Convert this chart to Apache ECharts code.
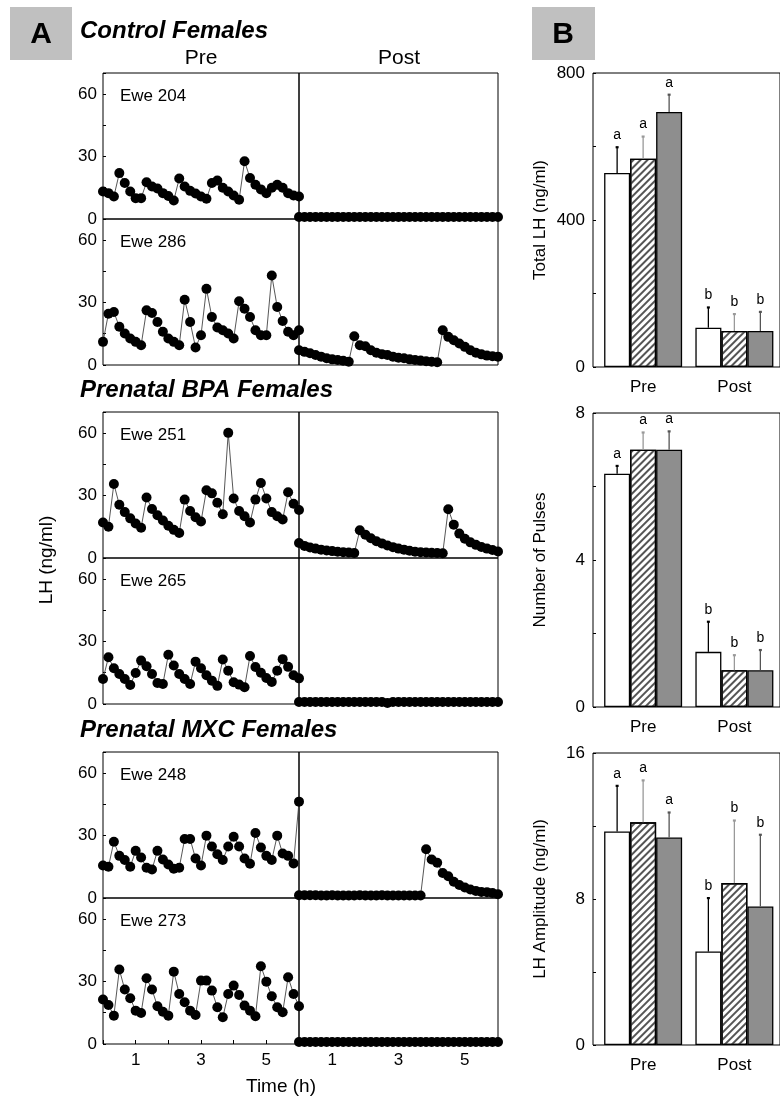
<!DOCTYPE html>
<html>
<head>
<meta charset="UTF-8">
<title>LH pulses pre / post</title>
<style>
body { margin: 0; padding: 0; background: #fff; }
#main { width: 780px; height: 1098px; }
</style>
</head>
<body>
<div id="main"></div>
<script src="https://cdn.jsdelivr.net/npm/echarts@6/dist/echarts.min.js"></script>
<script>
// LH (ng/ml), one sample every 10 min over 6 h
var ewe204Pre  = [13.2,12.4,10.8,22,17.3,13.2,10,10,17.6,15.6,14.6,12.4,11,8.9,19.4,15.6,13.5,12.2,10.8,9.7,17.3,18.4,15,13.2,11.3,9.2,27.7,19.7,16.4,14.2,12.4,15,16.4,15,12.4,11.3,10.8];
var ewe204Post = [1,1,1,1,1,1,1,1,1,1,1,1,1,1,1,1,1,1,1,1,1,1,1,1,1,1,1,1,1,1,1,1,1,1,1,1,1];
var ewe286Pre  = [11.1,24.6,25.4,18.3,15.1,12.7,11.1,9.5,26.2,24.9,20.6,15.9,12.7,11.1,9.5,31.3,20.6,8.4,14.3,36.5,23,18,16.7,15.1,12.7,30.6,27,23,16.7,14.3,14.3,42.9,27.8,21.1,15.9,14.3,16.7];
var ewe286Post = [7.1,6.3,5.6,4.8,4,3.2,2.7,2.4,2,1.6,13.8,9.5,9,7.1,5.9,5.2,4.8,4,3.5,3.2,2.7,2.4,2.1,1.8,1.6,1.3,16.7,13.5,11.9,10.3,8.7,7.1,5.9,5.1,4.5,4.2,4];
var ewe251Pre  = [17,15,35.5,25.5,22,19,16.5,14.5,29,23.5,20.5,18,15.5,13.5,12,28,22.5,19.5,17.5,32.5,31,26.5,21,60,28.5,22.5,20,17,28,36,28.5,22,20,18.5,31.5,26,23];
var ewe251Post = [7.2,5.8,5,4.5,4,3.6,3.3,3,2.8,2.6,2.4,13.3,11.2,9.5,8,7,6,5.2,4.5,4,3.5,3,2.8,2.6,2.5,2.4,2.3,23.4,16,11.7,9.2,7.5,6.3,5.3,4.5,3.8,3.1];
var ewe265Pre  = [12,22.4,17.1,14.4,12,9.1,14.9,20.8,18.1,14.4,10.1,9.6,23.6,18.5,14.4,12,9.6,20.3,17.1,13.8,11.2,8.7,21.3,16,10.4,9.3,8,23,17.7,15,12.5,10.6,15.9,21.5,17.8,13.8,12.3];
var ewe265Post = [1,1,1,1,1,1,1,1,1,1,1,1,1,1,1,1,0.5,1,1,1,1,1,1,1,1,1,1,1,1,1,1,1,1,1,1,1,1];
var ewe248Pre  = [15.6,15,27,20.2,18.2,15,22.6,19.4,14.5,13.7,22.6,18.5,16.1,14,14.5,28.3,28.3,18.9,15.6,29.9,24.7,21,18.2,24.7,29.4,24.7,18.9,16.4,31.2,24.2,20.2,18.2,29.9,21.3,20.2,16.6,46.2];
var ewe248Post = [1.3,1.3,1.3,1.3,1.2,1.2,1.3,1.2,1.2,1.2,1.2,1.3,1.2,1.2,1.2,1.3,1.2,1.2,1.2,1.2,1.2,1.2,1.2,23.4,18.5,16.9,12,10.4,7.8,6.2,5,4.1,3.4,2.9,2.8,2.4,1.8];
var ewe273Pre  = [21.3,18.7,13.6,35.7,26.1,21.9,16,14.9,31.5,26.1,18.1,15.5,13.6,34.7,24,20,16,13.9,30.4,30.4,25.6,17.6,12.8,24,28,23.5,18.4,16,13.3,37.3,29.9,22.9,17.6,15.2,32,24,18.1];
var ewe273Post = [1,1,1,1,1,1,1,1,1,1,1,1,1,1,1,1,1,1,1,1,1,1,1,1,1,1,1,1,1,1,1,1,1,1,1,1,1];

var eweNames = ['Ewe 204', 'Ewe 286', 'Ewe 251', 'Ewe 265', 'Ewe 248', 'Ewe 273'];
var preData  = [ewe204Pre, ewe286Pre, ewe251Pre, ewe265Pre, ewe248Pre, ewe273Pre];
var postData = [ewe204Post, ewe286Post, ewe251Post, ewe265Post, ewe248Post, ewe273Post];
var groupTitles = ['Control Females', 'Prenatal BPA Females', 'Prenatal MXC Females'];

// panel B: Pre, Post
var barCats = ['Pre', 'Post'];
var totalControl = [528, 107], totalControlUp = [598, 162];
var totalBpa     = [567, 98],  totalBpaUp     = [627, 144];
var totalMxc     = [694, 98],  totalMxcUp     = [741, 150];
var pulsesControl = [6.35, 1.5], pulsesControlUp = [6.56, 2.32];
var pulsesBpa     = [7, 1],      pulsesBpaUp     = [7.47, 1.41];
var pulsesMxc     = [7, 1],      pulsesMxcUp     = [7.5, 1.55];
var ampControl = [11.7, 5.12],  ampControlUp = [14.2, 8.05];
var ampBpa     = [12.2, 8.87],  ampBpaUp     = [14.5, 12.3];
var ampMxc     = [11.37, 7.59], ampMxcUp     = [12.74, 11.52];
var barLetters = ['a', 'b'];

var font = 'Liberation Sans, Arial, sans-serif';
var BAR_W = 26;
var chart = echarts.init(document.getElementById('main'), null, {renderer: 'canvas'});

var grids = [], xAxes = [], yAxes = [], series = [], graphics = [];
var panelTops = [73, 219, 412, 558, 752, 898];
var panelH = 146;

for (var k = 0; k < 6; k++) {
	for (var half = 0; half < 2; half++) {
		var gi = grids.length;
		var isPre = half === 0;
		var isBottom = k === 5;
		grids.push({left: isPre ? 103 : 299, top: panelTops[k], width: isPre ? 196 : 199, height: panelH,
			show: true, borderColor: '#000', borderWidth: 1, backgroundColor: 'transparent'});
		xAxes.push({gridIndex: gi, type: 'value', min: 0, max: 6, interval: 1,
			axisLine: {show: false}, splitLine: {show: false},
			axisTick: {show: isBottom && isPre, inside: true, length: 4, lineStyle: {color: '#000'}},
			axisLabel: {show: isBottom, margin: 8, color: '#000', fontSize: 17, fontFamily: font,
				formatter: function (v) { return v % 2 === 1 ? String(v) : ''; }}});
		yAxes.push({gridIndex: gi, type: 'value', min: 0, max: 70, interval: 15,
			axisLine: {show: false}, splitLine: {show: false},
			axisTick: {show: isPre, inside: true, length: 3, lineStyle: {color: '#000'}},
			axisLabel: {show: isPre, margin: 6, color: '#000', fontSize: 17, fontFamily: font,
				formatter: function (v) { return v % 30 === 0 ? String(v) : ''; }}});
		var vals = isPre ? preData[k] : postData[k];
		series.push({type: 'line', xAxisIndex: gi, yAxisIndex: gi, clip: false, animation: false,
			symbol: 'circle', symbolSize: 10,
			itemStyle: {color: '#000'}, lineStyle: {color: '#444', width: 0.9},
			data: vals.map(function (v, i) { return [i / 6, v]; })});
	}
	graphics.push({type: 'text', left: 120, top: panelTops[k] + 15,
		style: {text: eweNames[k], fontSize: 17, fontFamily: font, fill: '#000'}});
}

// bar panels: an outer frame grid carries the y scale, an inner grid carries the bars
var barPanels = [
	{top: 73, height: 294, max: 800, step: 200, name: 'Total LH (ng/ml)',
		means: [totalControl, totalBpa, totalMxc], ups: [totalControlUp, totalBpaUp, totalMxcUp]},
	{top: 413, height: 294, max: 8, step: 2, name: 'Number of Pulses',
		means: [pulsesControl, pulsesBpa, pulsesMxc], ups: [pulsesControlUp, pulsesBpaUp, pulsesMxcUp]},
	{top: 753, height: 292, max: 16, step: 4, name: 'LH Amplitude (ng/ml)',
		means: [ampControl, ampBpa, ampMxc], ups: [ampControlUp, ampBpaUp, ampMxcUp]}
];
var barStyles = [
	{color: '#fff', borderColor: '#000', borderWidth: 1.3},
	{color: '#fff', borderColor: '#000', borderWidth: 1.3,
		decal: {symbol: 'rect', symbolSize: 1, color: '#555', dashArrayX: [1, 0], dashArrayY: [1.2, 2.6], rotation: -Math.PI / 4}},
	{color: '#8e8e8e', borderColor: '#000', borderWidth: 1.3}
];
var errColors = ['#000', '#999', '#555'];

function errRender(g, color) {
	return function (params, api) {
		var m = api.value(1), u = api.value(2);
		var pm = api.coord([params.dataIndex, m]), pu = api.coord([params.dataIndex, u]);
		var cx = pm[0] + (g - 1) * BAR_W;
		return {type: 'group', children: [
			{type: 'line', shape: {x1: cx, y1: pm[1], x2: cx, y2: pu[1]}, style: {stroke: color, lineWidth: 1.3}},
			{type: 'line', shape: {x1: cx - 1.5, y1: pu[1], x2: cx + 1.5, y2: pu[1]}, style: {stroke: color, lineWidth: 2.2}},
			{type: 'text', style: {x: cx, y: pu[1] - 5, text: barLetters[params.dataIndex], align: 'center',
				verticalAlign: 'bottom', fontSize: 14, fontFamily: font, fill: '#000'}}
		]};
	};
}

barPanels.forEach(function (p) {
	var fi = grids.length;
	grids.push({left: 593, top: p.top, width: 207, height: p.height,
		show: true, borderColor: '#000', borderWidth: 1, backgroundColor: 'transparent'});
	xAxes.push({gridIndex: fi, type: 'value', min: 0, max: 1, show: false});
	yAxes.push({gridIndex: fi, type: 'value', min: 0, max: p.max, interval: p.step,
		name: p.name, nameLocation: 'middle', nameGap: 44,
		nameTextStyle: {fontSize: 17, fontFamily: font, color: '#000'},
		axisLine: {show: false}, splitLine: {show: false},
		axisTick: {show: true, inside: true, length: 3, lineStyle: {color: '#000'}},
		axisLabel: {margin: 8, color: '#000', fontSize: 17, fontFamily: font,
			formatter: function (v) { return v % (2 * p.step) === 0 ? String(v) : ''; }}});

	var gi = grids.length;
	grids.push({left: 597.5, top: p.top, width: 188, height: p.height, show: false});
	xAxes.push({gridIndex: gi, type: 'category', data: barCats, boundaryGap: true,
		axisLine: {show: false}, splitLine: {show: false}, axisTick: {show: false},
		axisLabel: {margin: 12, color: '#000', fontSize: 17, fontFamily: font}});
	yAxes.push({gridIndex: gi, type: 'value', min: 0, max: p.max, show: false});
	for (var g = 0; g < 3; g++) {
		series.push({type: 'bar', xAxisIndex: gi, yAxisIndex: gi, barWidth: BAR_W, barGap: '0%',
			animation: false, itemStyle: barStyles[g], data: p.means[g]});
	}
	for (var g2 = 0; g2 < 3; g2++) {
		var means = p.means[g2], ups = p.ups[g2];
		series.push({type: 'custom', xAxisIndex: gi, yAxisIndex: gi, z: 5, animation: false,
			renderItem: errRender(g2, errColors[g2]), encode: {x: 0, y: 1},
			data: means.map(function (v, i) { return [barCats[i], v, ups[i]]; })});
	}
});

graphics.push(
	{type: 'rect', shape: {x: 10, y: 7, width: 62, height: 53}, style: {fill: '#c0c0c0'}},
	{type: 'text', style: {x: 41, y: 35, text: 'A', align: 'center', verticalAlign: 'middle', font: 'bold 30px ' + font, fill: '#000'}},
	{type: 'rect', shape: {x: 532, y: 7, width: 63, height: 53}, style: {fill: '#c0c0c0'}},
	{type: 'text', style: {x: 563, y: 35, text: 'B', align: 'center', verticalAlign: 'middle', font: 'bold 30px ' + font, fill: '#000'}},
	{type: 'text', style: {x: 80, y: 31, text: groupTitles[0], verticalAlign: 'middle', font: 'italic bold 24px ' + font, fill: '#000'}},
	{type: 'text', style: {x: 80, y: 390, text: groupTitles[1], verticalAlign: 'middle', font: 'italic bold 24px ' + font, fill: '#000'}},
	{type: 'text', style: {x: 80, y: 730, text: groupTitles[2], verticalAlign: 'middle', font: 'italic bold 24px ' + font, fill: '#000'}},
	{type: 'text', style: {x: 201, y: 58, text: 'Pre', align: 'center', verticalAlign: 'middle', font: '21px ' + font, fill: '#000'}},
	{type: 'text', style: {x: 399, y: 58, text: 'Post', align: 'center', verticalAlign: 'middle', font: '21px ' + font, fill: '#000'}},
	{type: 'text', x: 47, y: 560, rotation: Math.PI / 2,
		style: {x: 0, y: 0, text: 'LH (ng/ml)', align: 'center', verticalAlign: 'middle', font: '19px ' + font, fill: '#000'}},
	{type: 'text', style: {x: 281, y: 1087, text: 'Time (h)', align: 'center', verticalAlign: 'middle', font: '19px ' + font, fill: '#000'}}
);

chart.setOption({
	animation: false,
	backgroundColor: '#fff',
	grid: grids,
	xAxis: xAxes,
	yAxis: yAxes,
	series: series,
	graphic: graphics
});
</script>
</body>
</html>
